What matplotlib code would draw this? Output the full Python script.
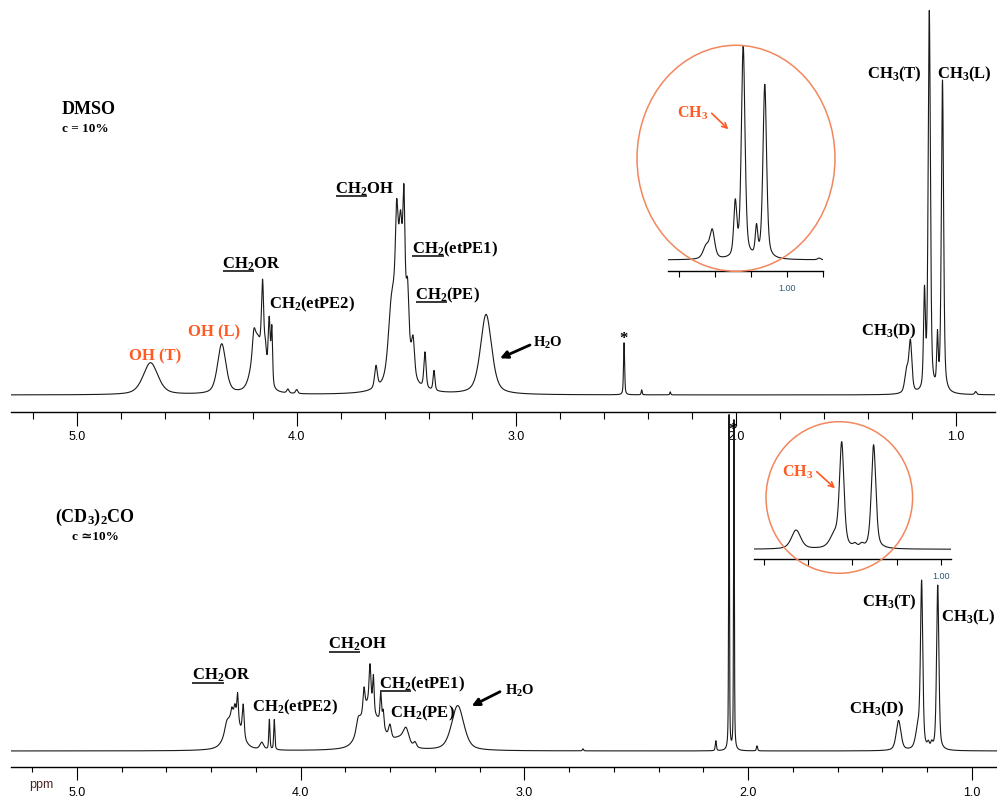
import numpy as np
import matplotlib
matplotlib.use("Agg")
import matplotlib.pyplot as plt
from matplotlib.patches import Ellipse
from matplotlib.ticker import MultipleLocator, FormatStrFormatter, FixedLocator, FuncFormatter

plt.rcParams['mathtext.fontset'] = 'custom'
plt.rcParams['mathtext.rm'] = 'Liberation Serif:bold'
plt.rcParams['mathtext.bf'] = 'Liberation Serif:bold'
plt.rcParams['mathtext.it'] = 'Liberation Serif:bold'

# ---- peak lists: shift (ppm), height, FWHM (ppm) ----
# DMSO-d6 spectrum (top)
dmso_shift = [4.665, 4.341,
              4.180, 4.195, 4.155, 4.142, 4.125, 4.113, 4.040, 4.000,
              3.639, 3.530, 3.571, 3.545, 3.527, 3.512, 3.495, 3.470, 3.416, 3.375,
              3.138, 2.510, 2.430, 2.300,
              1.224, 1.207, 1.143, 1.121, 1.084, 1.061, 0.910]
dmso_height = [32, 50,
               55, 20, 80, 25, 65, 55, 4, 4,
               22, 145, 40, 62, 30, 88, 42, 32, 36, 20,
               80, 52, 5, 3,
               22, 50, 95, 380, 50, 312, 3]
dmso_width = [0.080, 0.045,
              0.055, 0.015, 0.012, 0.012, 0.012, 0.008, 0.012, 0.012,
              0.015, 0.066, 0.030, 0.012, 0.012, 0.010, 0.012, 0.015, 0.012, 0.010,
              0.060, 0.006, 0.005, 0.005,
              0.020, 0.016, 0.010, 0.012, 0.008, 0.012, 0.010]

# acetone-d6 spectrum (bottom)
acet_shift = [4.300, 4.331, 4.308, 4.294, 4.282, 4.257, 4.174, 4.140, 4.118,
              3.700, 3.640, 3.560, 3.743, 3.717, 3.690, 3.675, 3.642, 3.631,
              3.601, 3.529, 3.489,
              3.298, 2.738, 2.144, 2.085, 2.063, 1.960,
              1.327, 1.240, 1.224, 1.194, 1.179, 1.152]
acet_height = [38, 8, 6, 8, 26, 32, 7, 30, 30,
               45, 15, 10, 12, 22, 40, 35, 28, 15,
               14, 15, 5,
               45, 2, 10, 335, 330, 5,
               30, 20, 163, 5, 5, 165]
acet_width = [0.070, 0.020, 0.008, 0.008, 0.008, 0.010, 0.020, 0.006, 0.006,
              0.080, 0.050, 0.080, 0.020, 0.010, 0.010, 0.008, 0.008, 0.008,
              0.015, 0.030, 0.015,
              0.065, 0.006, 0.006, 0.004, 0.004, 0.006,
              0.025, 0.025, 0.012, 0.010, 0.010, 0.012]

INK = "#1a1a1a"
ORANGE = "#FF5A22"
CIRCLE = "#F2875E"
SERIF = "Liberation Serif"


def spectrum(ppm, shifts, heights, widths, eta=0.5):
    y = np.zeros_like(ppm)
    for s, h, w in zip(shifts, heights, widths):
        d = (ppm - s) / (w / 2)
        y += h * (eta / (1 + d ** 2) + (1 - eta) * np.exp(-np.log(2) * d ** 2))
    return y


W, H = 997, 798
fig = plt.figure(figsize=(W / 100, H / 100), dpi=100)


def px_axes(x0, x1, ytop, ybot):
    return fig.add_axes([x0 / W, 1 - ybot / H, (x1 - x0) / W, (ybot - ytop) / H])


def style_axis(ax, major_len, minor_len, pad):
    for s in ("top", "left", "right"):
        ax.spines[s].set_visible(False)
    ax.spines["bottom"].set_linewidth(1.0)
    ax.set_facecolor("none")
    ax.set_yticks([])
    ax.tick_params(axis="x", which="major", direction="out", length=major_len,
                   width=0.8, pad=pad, labelsize=9, labelfontfamily="Liberation Sans")
    ax.tick_params(axis="x", which="minor", direction="out", length=minor_len, width=0.8)


ppm = np.linspace(5.4, 0.7, 40000)
y_dmso = spectrum(ppm, dmso_shift, dmso_height, dmso_width)
y_acet = spectrum(ppm, acet_shift, acet_height, acet_width)

# ---- top: DMSO ----
ax1 = px_axes(11, 995, 0, 412)
ax1.plot(ppm, y_dmso, color=INK, lw=0.8)
ax1.set_xlim(5.30, 0.822)
ax1.set_ylim(-17, 395)
ax1.xaxis.set_major_locator(MultipleLocator(1.0))
ax1.xaxis.set_minor_locator(MultipleLocator(0.2))
ax1.xaxis.set_major_formatter(FormatStrFormatter("%.1f"))
style_axis(ax1, 10, 5, 3.5)

# ---- bottom: acetone ----
ax2 = px_axes(11, 997, 400, 767)
ax2.plot(ppm, y_acet, color=INK, lw=0.8)
ax2.set_xlim(5.295, 0.887)
ax2.set_ylim(-16, 351)
ax2.xaxis.set_major_locator(MultipleLocator(1.0))
ax2.xaxis.set_minor_locator(MultipleLocator(0.2))
ax2.xaxis.set_major_formatter(FormatStrFormatter("%.1f"))
style_axis(ax2, 9.5, 3.8, 4.8)

# ---- insets of the CH3 region ----
only_one = FuncFormatter(lambda v, p: "1.00" if abs(v - 1.0) < 1e-6 else "")

in1 = px_axes(668, 822.7, 40, 270.7)
in1.plot(ppm, y_dmso * 0.558, color=INK, lw=0.8)
in1.set_xlim(1.33, 0.90)
in1.set_ylim(-10.7, 220.0)
in1.xaxis.set_major_locator(FixedLocator([0.9, 1.0, 1.1, 1.2, 1.3]))
in1.xaxis.set_major_formatter(only_one)
style_axis(in1, 4.3, 2, 5)
in1.tick_params(axis="x", labelsize=6.5, labelcolor="#2b5d78")

in2 = px_axes(754, 950.7, 430, 559.3)
in2.plot(ppm, y_acet * 0.63, color=INK, lw=0.8)
in2.set_xlim(1.422, 0.978)
in2.set_ylim(-10, 119.3)
in2.xaxis.set_major_locator(FixedLocator([1.0, 1.1, 1.2, 1.3, 1.4]))
in2.xaxis.set_major_formatter(only_one)
style_axis(in2, 4.3, 2, 4.8)
in2.tick_params(axis="x", labelsize=6.5, labelcolor="#2b5d78")

# ---- overlay in pixel coordinates for annotations ----
ov = fig.add_axes([0, 0, 1, 1])
ov.set_xlim(0, W)
ov.set_ylim(H, 0)
ov.axis("off")
ov.set_facecolor("none")

ov.add_patch(Ellipse((736, 158.3), 198, 226, fill=False, ec=CIRCLE, lw=1.1))
ov.add_patch(Ellipse((839.3, 497.5), 146.6, 151.6, fill=False, ec=CIRCLE, lw=1.1))

underlines = []


def label(x, y, text, under=None, size=12, color="black", family=SERIF):
    ov.text(x, y, text, fontsize=size, color=color, family=family,
            fontweight="bold", ha="left", va="baseline")
    if under:
        u = ov.text(x, y, under, fontsize=size, family=family,
                    fontweight="bold", ha="left", va="baseline", alpha=0)
        underlines.append((u, y))


# DMSO labels
label(62, 114, "DMSO", size=13)
label(62, 132, "c = 10%", size=9.5)
label(129.3, 360, "OH (T)", color=ORANGE)
label(188.3, 336.7, "OH (L)", color=ORANGE)
label(222.3, 268.3, "CH$_2$OR", under="CH$_2$")
label(269.3, 308.3, "CH$_2$(etPE2)")
label(335, 193.3, "CH$_2$OH", under="CH$_2$")
label(411.7, 253.3, "CH$_2$(etPE1)", under="CH$_2$")
label(415, 299.3, "CH$_2$(PE)", under="CH$_2$")
label(533.3, 346.7, "H$_2$O", size=10.5)
label(619.5, 343, "*", size=12)
label(866.7, 78.3, "CH$_3$(T)")
label(937.3, 78.3, "CH$_3$(L)")
label(860.7, 335, "CH$_3$(D)")
label(677, 118, "CH$_3$", color=ORANGE, size=11.5)

# acetone labels
label(55, 522, "(CD$_3$)$_2$CO", size=13)
label(72, 540, "c ≃10%", size=9.5, family=[SERIF, "DejaVu Serif"])
label(191.7, 680, "CH$_2$OR", under="CH$_2$")
label(251.7, 711.7, "CH$_2$(etPE2)")
label(328.3, 649, "CH$_2$OH", under="CH$_2$")
label(379.3, 688.3, "CH$_2$(etPE1)", under="CH$_2$")
label(390, 717.3, "CH$_2$(PE)")
label(505, 695, "H$_2$O", size=10.5)
label(728.5, 434, "*", size=12)
label(861.7, 606.7, "CH$_3$(T)")
label(940.7, 621.7, "CH$_3$(L)")
label(849.3, 713.3, "CH$_3$(D)")
label(781.7, 476.5, "CH$_3$", color=ORANGE, size=11.5)

ov.text(29, 788, "ppm", fontsize=9, color="#4a2424", family="Liberation Sans",
        ha="left", va="baseline")

# arrows
black_arrow = dict(arrowstyle="-|>", lw=2.0, color="black", mutation_scale=11,
                   shrinkA=0, shrinkB=0)
ov.annotate("", xy=(500, 358.3), xytext=(530, 345), arrowprops=black_arrow)
ov.annotate("", xy=(471.7, 706), xytext=(500, 691.7), arrowprops=black_arrow)
orange_arrow = dict(arrowstyle="->", lw=1.2, color=ORANGE, mutation_scale=9,
                    shrinkA=0, shrinkB=0)
ov.annotate("", xy=(728.3, 129.3), xytext=(711.7, 113.3), arrowprops=orange_arrow)
ov.annotate("", xy=(835, 488.3), xytext=(816.7, 471.7), arrowprops=orange_arrow)

# underlines under the assigned CH2 groups
fig.canvas.draw()
renderer = fig.canvas.get_renderer()
inv = ov.transData.inverted()
for u, y in underlines:
    bb = u.get_window_extent(renderer)
    (xa, _), (xb, _) = inv.transform([(bb.x0, bb.y0), (bb.x1, bb.y1)])
    ov.plot([xa + 0.5, xb - 0.5], [y + 3, y + 3], color="black", lw=1.1,
            solid_capstyle="butt")

fig.savefig("out.png", dpi=100)
